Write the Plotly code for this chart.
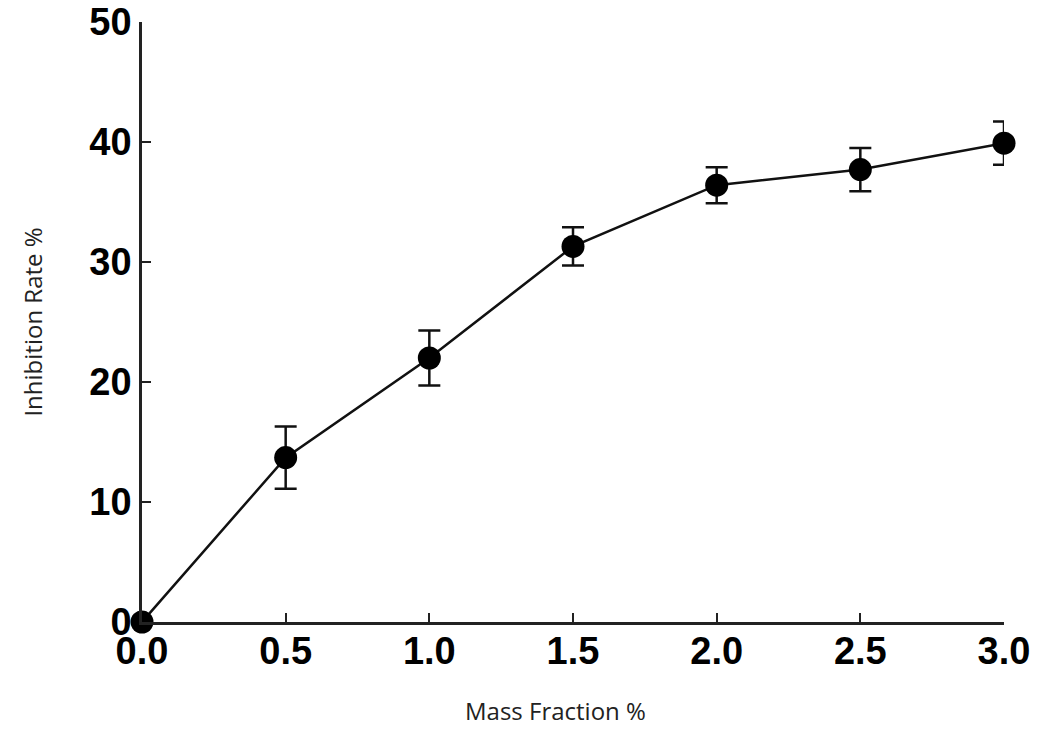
import plotly.graph_objects as go

mass_fraction = [0.0, 0.5, 1.0, 1.5, 2.0, 2.5, 3.0]
inhibition_rate = [0.0, 13.7, 22.0, 31.3, 36.4, 37.7, 39.9]
error = [0.0, 2.6, 2.3, 1.6, 1.5, 1.8, 1.8]

x_ticks = [0.0, 0.5, 1.0, 1.5, 2.0, 2.5, 3.0]
y_ticks = [0, 10, 20, 30, 40, 50]

tick_font = {"family": "Liberation Sans, Arial", "size": 38, "color": "black", "weight": "bold"}
title_font = {"family": "Open Sans", "size": 24, "color": "#222222"}

fig = go.Figure(
    go.Scatter(
        x=mass_fraction,
        y=inhibition_rate,
        mode="lines+markers",
        line={"color": "#111111", "width": 2.5},
        marker={"color": "#000000", "size": 23},
        error_y={
            "type": "data",
            "array": error,
            "visible": True,
            "color": "#111111",
            "thickness": 2.5,
            "width": 11
        },
        cliponaxis=False,
        showlegend=False
    )
)

# page body adds ~8px offset, so margins are shifted to compensate
fig.update_layout(
    width=1063,
    height=739,
    paper_bgcolor="white",
    plot_bgcolor="white",
    margin={"l": 134, "r": 67, "t": 14, "b": 125}
)

fig.update_xaxes(
    range=[0, 3.0],
    tickvals=x_ticks,
    ticktext=["%.1f" % v for v in x_ticks],
    ticks="inside",
    ticklen=9,
    tickwidth=2,
    tickcolor="#222222",
    showline=True,
    linecolor="#222222",
    linewidth=2.5,
    showgrid=False,
    zeroline=False,
    automargin=False,
    ticklabeloverflow="allow",
    ticklabelstandoff=-6,
    tickfont=tick_font
)

# x title sits a bit left of the plot centre in the original
fig.add_annotation(
    text="Mass Fraction %",
    xref="paper",
    yref="paper",
    x=0.48,
    y=-0.148,
    xanchor="center",
    yanchor="middle",
    showarrow=False,
    font=title_font
)

fig.update_yaxes(
    range=[0, 50],
    tickvals=y_ticks,
    ticks="inside",
    ticklen=9,
    tickwidth=2,
    tickcolor="#222222",
    showline=True,
    linecolor="#222222",
    linewidth=2.5,
    showgrid=False,
    zeroline=False,
    automargin=False,
    ticklabeloverflow="allow",
    tickfont=tick_font,
    title={"text": "Inhibition Rate %", "font": title_font, "standoff": 40}
)

fig.write_html("out.html")
